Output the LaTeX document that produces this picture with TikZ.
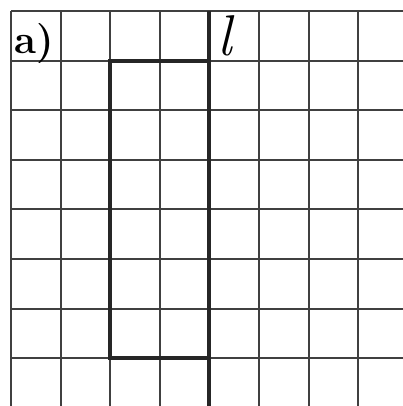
\documentclass[tikz,border=0pt]{standalone}
\usepackage{amsmath}
\usepackage{tikz}
\usetikzlibrary{positioning}

\begin{document}
\begin{tikzpicture}
  \useasboundingbox (-0.222,0.222) rectangle (7.903,-7.964);
  \fill [white] (-0.222,0.222) rectangle (7.903,-7.964);
  \clip (-0.222,0.222) rectangle (7.903,-7.964);

  % grid
  \draw [line width=1.1pt,black!75] (0,-9) grid (9,0);

  % figure and line
  \draw [line width=2.2pt,black!85] (2,-1) rectangle (4,-7);
  \draw [line width=2.2pt,black!85] (4,0) -- (4,-8.3);

  \node [font=\fontsize{23}{25}\selectfont\bfseries,inner sep=0pt,anchor=base west] (lbl) at (0.06,-0.85) {a)};
  \node [font=\fontsize{33}{35}\selectfont\itshape,inner sep=0pt,anchor=base] (lname) at (4.31,-0.89) {l};
\end{tikzpicture}
\end{document}
